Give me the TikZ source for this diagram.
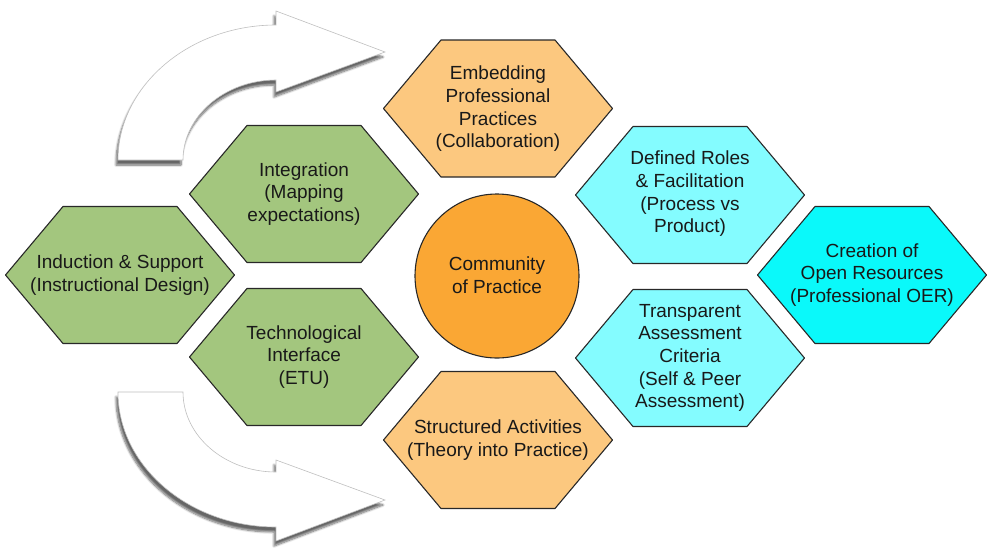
\documentclass[tikz,border=0pt]{standalone}
\usepackage{fontspec}
\setmainfont{Liberation Sans}
\usetikzlibrary{shadows.blur}
\definecolor{hexgreen}{RGB}{163,198,126}
\definecolor{hexorange}{RGB}{252,200,127}
\definecolor{coporange}{RGB}{250,167,52}
\definecolor{hexcyan}{RGB}{132,252,255}
\definecolor{hexaqua}{RGB}{10,249,250}
\definecolor{hexline}{RGB}{40,40,40}

\begin{document}
\begin{tikzpicture}[x=1pt,y=1pt,yscale=-1,xscale=1,
  hexa/.style={draw=hexline,line width=1.1pt,line join=round},
  hextext/.style={align=center,inner sep=0pt,text=black!90,font=\fontsize{19}{22.7}\selectfont},
  bigarrow/.style={draw=black!25,line width=0.6pt,fill=white,
    blur shadow={shadow xshift=-2pt,shadow yshift=-5pt,shadow blur steps=8,shadow opacity=60}}]
\useasboundingbox (0,0) rectangle (989,547);
% curved arrows
\draw [bigarrow] (118,160) .. controls (118,86) and (189,25) .. (276,25) -- (276,11) -- (385,52) -- (276,92) -- (276,80) .. controls (225,80) and (183,116) .. (183,160) -- cycle ;
\draw [bigarrow] (118,392) .. controls (118,466) and (189,527) .. (276,527) -- (276,541) -- (385,500) -- (276,460) -- (276,472) .. controls (225,472) and (183,436) .. (183,392) -- cycle ;
% green hexagons
\draw [hexa,fill=hexgreen] (5.5,275) -- ++(57.5,-68.5) -- ++(114,0) -- ++(57.5,68.5) -- ++(-57.5,68.5) -- ++(-114,0) -- cycle ;
\draw [hexa,fill=hexgreen] (189.5,194) -- ++(57.5,-68.5) -- ++(114,0) -- ++(57.5,68.5) -- ++(-57.5,68.5) -- ++(-114,0) -- cycle ;
\draw [hexa,fill=hexgreen] (189.5,357) -- ++(57.5,-68.5) -- ++(114,0) -- ++(57.5,68.5) -- ++(-57.5,68.5) -- ++(-114,0) -- cycle ;
% orange hexagons
\draw [hexa,fill=hexorange] (383.5,108.5) -- ++(57.5,-68.5) -- ++(114,0) -- ++(57.5,68.5) -- ++(-57.5,68.5) -- ++(-114,0) -- cycle ;
\draw [hexa,fill=hexorange] (383.5,440) -- ++(57.5,-68.5) -- ++(114,0) -- ++(57.5,68.5) -- ++(-57.5,68.5) -- ++(-114,0) -- cycle ;
% cyan hexagons
\draw [hexa,fill=hexcyan] (575.5,195) -- ++(57.5,-68.5) -- ++(114,0) -- ++(57.5,68.5) -- ++(-57.5,68.5) -- ++(-114,0) -- cycle ;
\draw [hexa,fill=hexcyan] (575.5,358) -- ++(57.5,-68.5) -- ++(114,0) -- ++(57.5,68.5) -- ++(-57.5,68.5) -- ++(-114,0) -- cycle ;
\draw [hexa,fill=hexaqua] (757.5,275) -- ++(57.5,-68.5) -- ++(114,0) -- ++(57.5,68.5) -- ++(-57.5,68.5) -- ++(-114,0) -- cycle ;
% centre
\node [circle,draw=hexline,line width=1.1pt,fill=coporange,minimum size=164pt,inner sep=0pt] (cop) at (497,276) {};
\node [hextext] (coptext) at (497,275) {Community\\of Practice};
% labels
\node [hextext] (induct) at (120,275) {Induction \& Support\\(Instructional Design)};
\node [hextext] (integ) at (304,194) {Integration\\(Mapping\\expectations)};
\node [hextext] (techif) at (304,357) {Technological\\Interface\\(ETU)};
\node [hextext] (embed) at (498,109) {Embedding\\Professional\\Practices\\(Collaboration)};
\node [hextext] (struct) at (498,440) {Structured Activities\\(Theory into Practice)};
\node [hextext] (roles) at (690,194) {Defined Roles\\\& Facilitation\\(Process vs\\Product)};
\node [hextext] (assess) at (690,358) {Transparent\\Assessment\\Criteria\\(Self \& Peer\\Assessment)};
\node [hextext] (oer) at (872,275) {Creation of\\Open Resources\\(Professional OER)};
\end{tikzpicture}
\end{document}
